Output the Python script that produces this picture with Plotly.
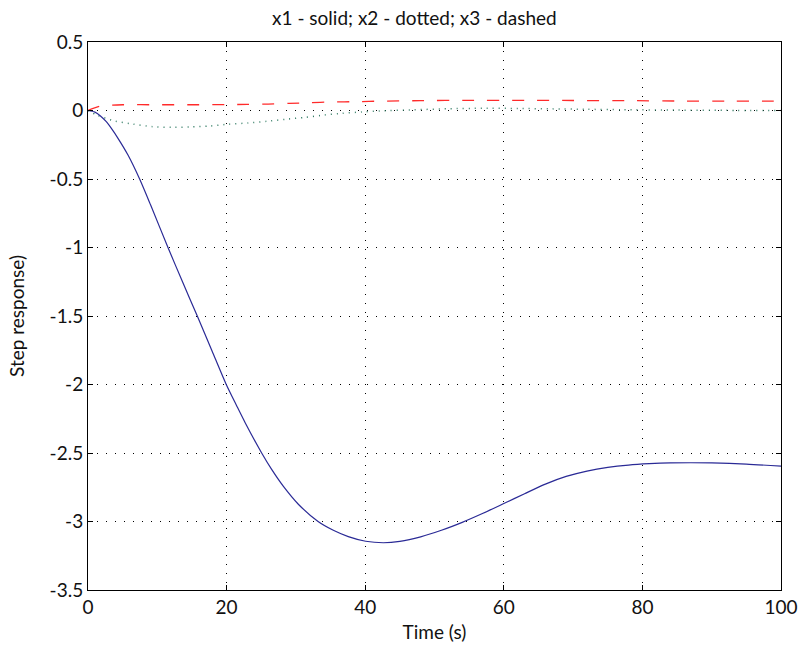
import plotly.graph_objects as go

# x1 (solid)
t1 = [0, 1, 1.8, 2.64, 3.5, 4.33, 5.77, 7.45, 9.04, 11.54, 13.7, 15.77, 17.9, 19.95, 21.45, 22.66, 25.06, 26.5,
      28.2, 30.35, 33.2, 35.4, 37.56, 40.07, 42.6, 45, 48, 51, 54, 57, 60, 63, 66, 69, 72, 75, 78, 81, 84, 87,
      90, 95, 100]
x1 = [0, -0.012, -0.04, -0.082, -0.14, -0.203, -0.325, -0.5, -0.69, -1.0, -1.258, -1.5, -1.755, -2.0, -2.155,
      -2.277, -2.5, -2.62, -2.744, -2.874, -3.0, -3.064, -3.11, -3.144, -3.155, -3.145, -3.112, -3.064, -3.006,
      -2.94, -2.869, -2.797, -2.727, -2.671, -2.632, -2.605, -2.588, -2.578, -2.572, -2.571, -2.572, -2.581,
      -2.596]

# x2 (dotted)
t2 = [0, 1.25, 3.9, 6.5, 9.3, 12.1, 14.7, 17.6, 20.3, 23.1, 25.8, 28.5, 31.3, 34.1, 36.7, 39.5, 42, 47, 52, 57,
      62, 67, 72, 77, 85, 92, 100]
x2 = [0, -0.033, -0.077, -0.099, -0.118, -0.123, -0.12, -0.113, -0.10, -0.091, -0.079, -0.064, -0.05, -0.033,
      -0.02, -0.011, -0.003, 0.005, 0.013, 0.016, 0.015, 0.012, 0.009, 0.006, 0.003, 0.001, 0.0]

# x3 (dashed)
t3 = [0, 1.5, 3, 5, 10, 15, 20, 23, 26, 29, 32, 35, 39, 42, 48, 55, 63, 70, 78, 86, 93, 100]
x3 = [0, 0.028, 0.038, 0.042, 0.042, 0.042, 0.043, 0.045, 0.047, 0.052, 0.057, 0.062, 0.065, 0.068, 0.072,
      0.074, 0.074, 0.073, 0.072, 0.069, 0.069, 0.068]

x_ticks = [0, 20, 40, 60, 80, 100]
y_ticks = [0.5, 0, -0.5, -1, -1.5, -2, -2.5, -3, -3.5]
y_tick_labels = ["0.5", "0", "-0.5", "-1", "-1.5", "-2", "-2.5", "-3", "-3.5"]

FONT = "Lato"
FS = 19

fig = go.Figure()
fig.add_trace(go.Scatter(x=t2, y=x2, mode="lines", line=dict(color="#2f7a62", width=1.5, dash="1px,5px", shape="spline", smoothing=0.7)))
fig.add_trace(go.Scatter(x=t3, y=x3, mode="lines", line=dict(color="#ff2a2a", width=1.3, dash="12px,13px", shape="spline", smoothing=0.7)))
fig.add_trace(go.Scatter(x=t1, y=x1, mode="lines", line=dict(color="#2a2a96", width=1.2, shape="spline", smoothing=0.7)))

axis_common = dict(
    showline=True, linecolor="black", linewidth=1, mirror="allticks",
    ticks="inside", ticklen=5, tickcolor="black",
    showgrid=True, gridcolor="black", gridwidth=1, griddash="1px,8px",
    zeroline=False, tickfont=dict(family=FONT, size=FS, color="#111"),
    automargin=False,
)

fig.update_layout(
    width=800, height=645,
    margin=dict(l=88, r=19, t=42, b=55),
    paper_bgcolor="white", plot_bgcolor="white",
    showlegend=False,
    title=dict(text="x1 - solid; x2 - dotted; x3 - dashed", x=0.518, xanchor="center", y=0.972, yanchor="middle",
               font=dict(family=FONT, size=FS, color="#111")),
    xaxis=dict(range=[0, 100], tickvals=x_ticks,
               title=dict(text="Time (s)", font=dict(family=FONT, size=FS, color="#111"), standoff=8),
               **axis_common),
    yaxis=dict(range=[-3.5, 0.5], tickvals=y_ticks, ticktext=y_tick_labels,
               title=dict(text="Step response)", font=dict(family=FONT, size=FS, color="#111"), standoff=19),
               **axis_common),
)

fig.write_html("out.html", config={"displayModeBar": False},
               post_script="document.body.style.margin='0';")
